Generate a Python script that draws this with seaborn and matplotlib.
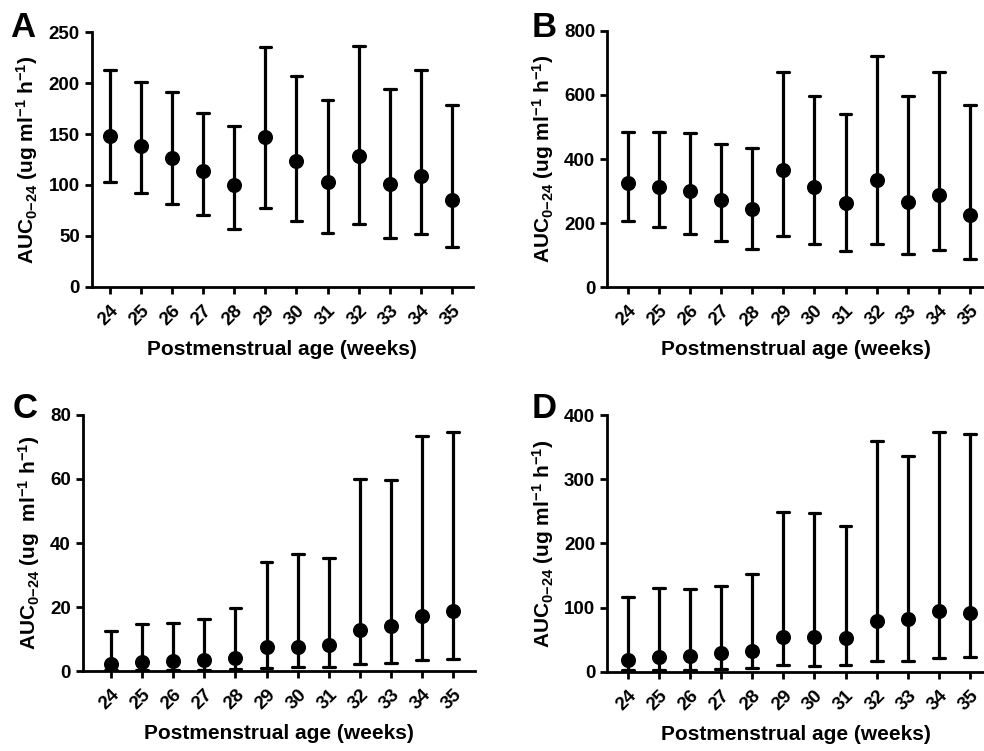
import numpy as np
import pandas as pd
import matplotlib
matplotlib.use("Agg")
import matplotlib.pyplot as plt
import seaborn as sns

weeks = list(range(24, 36))

a_mean = [148, 138.6, 126.8, 113.7, 100.3, 147.1, 123.5, 102.6, 128.8, 101.2, 108.5, 84.9]
a_upper = [213, 201.5, 191, 170.4, 158.3, 235.3, 207, 183.5, 236.9, 194, 213.3, 178.2]
a_lower = [102.6, 92.4, 81, 70.8, 57, 77.7, 64.2, 52.4, 62, 47.5, 51.4, 39.3]

b_mean = [325, 314, 299, 272, 243, 367, 312, 263, 335, 265, 287, 226]
b_upper = [484, 485, 480, 447, 435, 672, 597, 541, 721, 597, 670, 568]
b_lower = [208, 188, 165, 145, 119, 161, 136, 114, 134, 104, 116, 89]

c_mean = [2.3, 2.7, 3.0, 3.4, 4.1, 7.4, 7.6, 8.0, 12.8, 14.0, 17.3, 18.6]
c_upper = [12.4, 14.7, 15.1, 16.4, 19.7, 34.0, 36.6, 35.4, 59.9, 59.8, 73.5, 74.7]
c_lower = [0.3, 0.3, 0.3, 0.4, 0.5, 1.0, 1.1, 1.2, 2.2, 2.4, 3.3, 3.6]

d_mean = [19, 23, 25, 29, 32, 54, 54, 53, 79.5, 81.6, 94, 92]
d_upper = [117, 131, 129, 134, 152, 249, 248, 227, 360, 336, 373, 370]
d_lower = [2.6, 2.6, 2.6, 4.7, 5.2, 10.4, 9.4, 9.9, 16.6, 16.1, 21.3, 22.3]

panel_letters = ["A", "B", "C", "D"]
y_ticks = [list(range(0, 251, 50)), list(range(0, 801, 200)),
           list(range(0, 81, 20)), list(range(0, 401, 100))]
x_label = "Postmenstrual age (weeks)"
y_labels = [r"AUC$_{0\mathrm{-}24}$ (ug ml$^{-1}$ h$^{-1}$)",
            r"AUC$_{0\mathrm{-}24}$ (ug ml$^{-1}$ h$^{-1}$)",
            r"AUC$_{0\mathrm{-}24}$ (ug  ml$^{-1}$ h$^{-1}$)",
            r"AUC$_{0\mathrm{-}24}$ (ug ml$^{-1}$ h$^{-1}$)"]

series = [(a_mean, a_lower, a_upper), (b_mean, b_lower, b_upper),
          (c_mean, c_lower, c_upper), (d_mean, d_lower, d_upper)]

sns.set_theme(style="ticks")
plt.rcParams["font.family"] = ["Liberation Sans", "DejaVu Sans"]
plt.rcParams["font.weight"] = "bold"
plt.rcParams["axes.labelweight"] = "bold"
plt.rcParams["text.color"] = "black"
plt.rcParams["axes.labelcolor"] = "black"
plt.rcParams["xtick.color"] = "black"
plt.rcParams["ytick.color"] = "black"
plt.rcParams["axes.edgecolor"] = "black"
plt.rcParams["mathtext.fontset"] = "custom"
plt.rcParams["mathtext.rm"] = "Liberation Sans:bold"
plt.rcParams["mathtext.it"] = "Liberation Sans:bold"
plt.rcParams["mathtext.bf"] = "Liberation Sans:bold"
plt.rcParams["mathtext.default"] = "rm"

W, H = 984, 751
fig = plt.figure(figsize=(W / 100, H / 100), dpi=100)

# axes in pixel coords: left, top, right, bottom ; xlim
layout = [
    (91.7, 32.3, 473.0, 286.7, (23.41, 35.68)),
    (607.0, 30.7, 984.0, 287.3, (23.33, 35.45)),
    (82.7, 415.0, 475.0, 671.0, (23.09, 35.70)),
    (607.0, 415.0, 984.0, 671.7, (23.33, 35.45)),
]
letter_pos = [(10, 37), (532, 37), (13, 418), (532, 418)]

for i, ((mean, lo, up), (l, t, r, b, xl)) in enumerate(zip(series, layout)):
    ax = fig.add_axes([l / W, 1 - b / H, (r - l) / W, (b - t) / H])
    df = pd.DataFrame({
        "week": weeks * 3,
        "value": list(lo) + list(mean) + list(up),
    })
    sns.pointplot(data=df, x="week", y="value", estimator="median",
                  errorbar=lambda v: (v.min(), v.max()),
                  native_scale=True, color="black", markers="o",
                  linestyles="none", markersize=8.8, capsize=0.38,
                  err_kws={"linewidth": 2.3}, ax=ax)
    ax.set_xlim(*xl)
    yt = y_ticks[i]
    ax.set_ylim(yt[0], yt[-1])
    ax.set_yticks(yt)
    ax.set_xticks(weeks)
    ax.set_xticklabels([str(w) for w in weeks], rotation=45, ha="right",
                       rotation_mode="anchor")
    ax.tick_params(axis="both", width=2, length=5, labelsize=13.5, color="black",
                   labelcolor="black")
    ax.tick_params(axis="x", pad=6)
    for sp in ["left", "bottom"]:
        ax.spines[sp].set_linewidth(2)
        ax.spines[sp].set_color("black")
    sns.despine(ax=ax)
    ax.set_xlabel(x_label, fontsize=15, fontweight="bold", labelpad=8,
                  color="black")
    ax.set_ylabel(y_labels[i], fontsize=15, fontweight="bold", labelpad=6,
                  color="black")
    lx, ly = letter_pos[i]
    fig.text(lx / W, 1 - ly / H, panel_letters[i], fontsize=25,
             fontweight="bold", ha="left", va="baseline", color="black")

fig.savefig("out.png", dpi=100, facecolor="white")
